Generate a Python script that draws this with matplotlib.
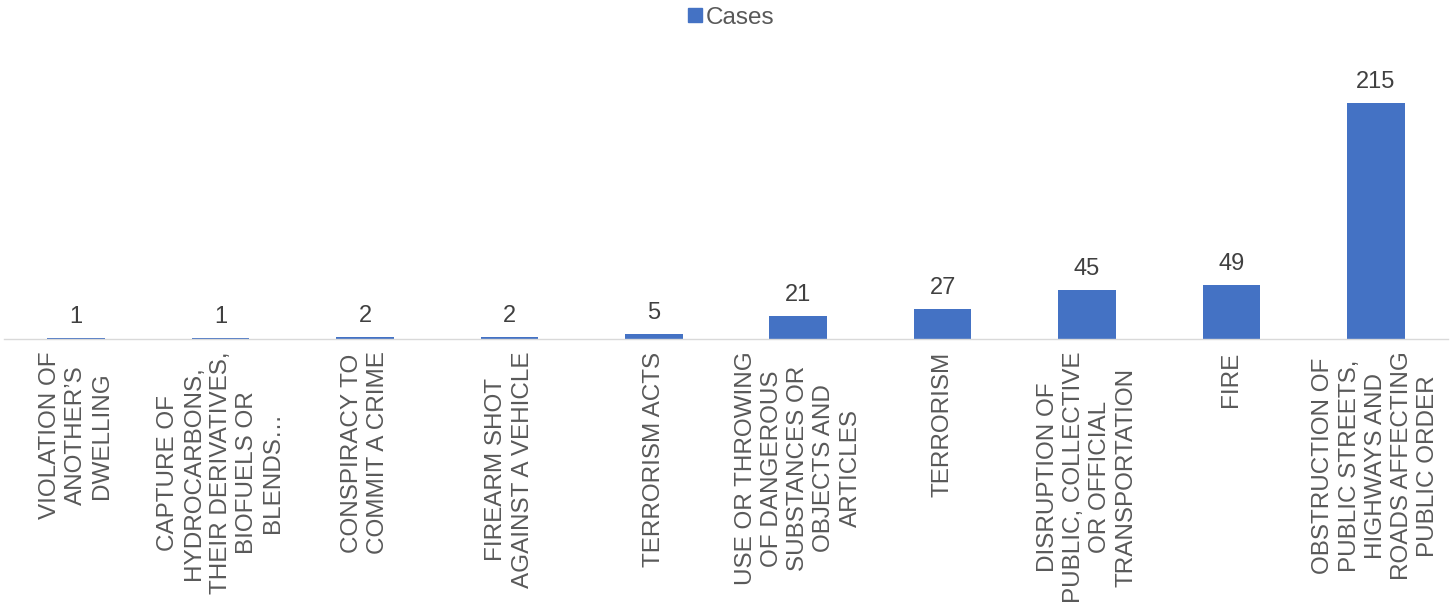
import matplotlib
matplotlib.use("Agg")
from matplotlib import pyplot as plt
from matplotlib.lines import Line2D

plt.rcParams['font.family'] = ['Liberation Sans', 'DejaVu Sans']

categories = [
    "VIOLATION OF\nANOTHER\u2019S\nDWELLING",
    "CAPTURE OF\nHYDROCARBONS,\nTHEIR DERIVATIVES,\nBIOFUELS OR\nBLENDS\u2026",
    "CONSPIRACY TO\nCOMMIT A CRIME",
    "FIREARM SHOT\nAGAINST A VEHICLE",
    "TERRORISM ACTS",
    "USE OR THROWING\nOF DANGEROUS\nSUBSTANCES OR\nOBJECTS AND\nARTICLES",
    "TERRORISM",
    "DISRUPTION OF\nPUBLIC, COLLECTIVE\nOR OFFICIAL\nTRANSPORTATION",
    "FIRE",
    "OBSTRUCTION OF\nPUBLIC STREETS,\nHIGHWAYS AND\nROADS AFFECTING\nPUBLIC ORDER",
]
cases = [1, 1, 2, 2, 5, 21, 27, 45, 49, 215]

blue = '#4472C4'
grey = '#595959'

fig = plt.figure(figsize=(14.55, 6.04), dpi=100)
# axes placed in pixel terms: left 4, right 1448, bottom 339, top 40
W, H = 1455, 604
ax = fig.add_axes([4 / W, (H - 339) / H, 1444 / W, 299 / H])

x = list(range(len(cases)))
ax.bar(x, cases, width=0.4, color=blue, zorder=2)
for xi, v in zip(x, cases):
    ax.text(xi, v + 9, str(v), ha='center', va='bottom', fontsize=17, color='#404040')

ax.set_xlim(-0.5, len(cases) - 0.5)
ax.set_ylim(0, 272)
ax.set_xticks(x)
ax.set_xticklabels(categories, rotation=90, ha='center', va='top',
                   multialignment='center', fontsize=17.5, color=grey,
                   linespacing=1.25)
ax.tick_params(axis='x', length=0, pad=9)
ax.set_yticks([])
for s in ['top', 'right', 'left']:
    ax.spines[s].set_visible(False)
ax.spines['bottom'].set_color('#D9D9D9')
ax.spines['bottom'].set_linewidth(1)

handle = Line2D([], [], marker='s', linestyle='none', markersize=10,
                markerfacecolor=blue, markeredgecolor=blue)
fig.legend([handle], ['Cases'], loc='upper center', bbox_to_anchor=(0.5, 1.025),
           frameon=False, fontsize=17.5, handletextpad=-0.15, handlelength=1.2,
           labelcolor=grey)

fig.savefig('out.png', dpi=100)
